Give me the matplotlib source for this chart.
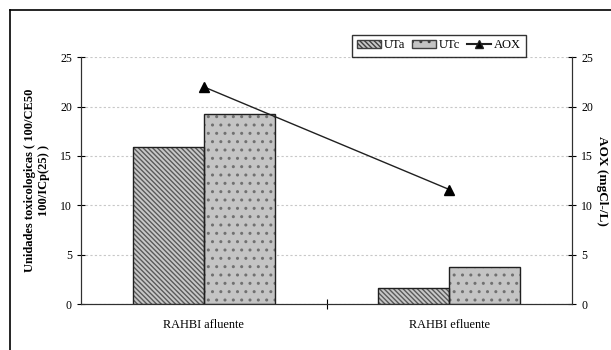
import matplotlib
matplotlib.use("Agg")
import matplotlib.pyplot as plt
from matplotlib.lines import Line2D
from matplotlib.patches import Patch

# data
categorias = ["RAHBI afluente", "RAHBI efluente"]
uta = [15.9, 1.6]
utc = [19.25, 3.7]
aox = [22.0, 11.6]

plt.rcParams['font.family'] = ['Liberation Serif', 'DejaVu Serif']
plt.rcParams['hatch.linewidth'] = 1.0

fig = plt.figure(figsize=(6.11, 3.5), dpi=100)
ax = fig.add_axes([0.1326, 0.1314, 0.8036, 0.705])
ax2 = ax.twinx()

x = list(range(len(categorias)))
w = 0.289
xa = [i - w / 2 for i in x]
xc = [i + w / 2 for i in x]
# fill + hatch first, then outline on top
ax.bar(xa, uta, width=w, color='#c8c8c8', edgecolor='#5a5a5a', hatch='\\\\\\\\\\\\\\',
       linewidth=0, zorder=3)
ax.bar(xc, utc, width=w, color='#c4c4c4', edgecolor='#707070', hatch='..',
       linewidth=0, zorder=3)
ax.bar(xa, uta, width=w, fill=False, edgecolor='#202020', linewidth=1.0, zorder=3)
ax.bar(xc, utc, width=w, fill=False, edgecolor='#202020', linewidth=1.0, zorder=3)

ax2.plot(x, aox, color='#202020', linewidth=1.0, marker='^', markersize=7,
         markerfacecolor='black', markeredgecolor='black', zorder=4)

for a in (ax, ax2):
    a.set_ylim(0, 25)
    a.set_yticks([0, 5, 10, 15, 20, 25])
    a.spines['top'].set_visible(False)
    a.tick_params(axis='y', direction='inout', length=6, labelsize=8.5, width=0.8)
ax.set_xlim(-0.5, 1.5)
ax.yaxis.grid(True, linestyle=(0, (2, 2)), color='#c8c8c8', linewidth=0.8, zorder=0)
ax.set_axisbelow(True)

ax.set_xticks([0.5])
ax.set_xticklabels([''])
ax.tick_params(axis='x', direction='inout', length=7, width=0.8)
for i, c in enumerate(categorias):
    ax.text(i, -2.1, c, ha='center', va='center', fontsize=8.8)

for s in ('left', 'bottom', 'right'):
    ax.spines[s].set_color('#303030')
    ax2.spines[s].set_color('#303030')

ax.set_ylabel("Unidades toxicologicas ( 100/CE50\n100/ICp(25) )", fontsize=9,
              fontweight='bold', labelpad=7, linespacing=1.25)
ax2.set_ylabel("AOX (mgCl-/L)", fontsize=9.5, fontweight='bold', rotation=-90,
               labelpad=11)

handles = [Patch(facecolor='#c8c8c8', edgecolor='#404040', hatch='\\\\\\\\\\\\\\', label='UTa'),
           Patch(facecolor='#c4c4c4', edgecolor='#404040', hatch='..', label='UTc'),
           Line2D([], [], color='#202020', marker='^', markerfacecolor='black',
                  markersize=6, label='AOX')]
leg = fig.legend(handles=handles, loc='upper left', bbox_to_anchor=(352 / 611, 1 - 34.5 / 350),
                 ncol=3, fontsize=9, frameon=True, fancybox=False, handlelength=1.9,
                 handleheight=0.6, handletextpad=0.25, columnspacing=0.55, borderpad=0.4,
                 borderaxespad=0)
leg.get_frame().set_edgecolor('black')
leg.get_frame().set_linewidth(1.0)

# outer frame (left and top only, as in the reference)
fig.add_artist(Line2D([10 / 611, 10 / 611], [0, 1 - 9.7 / 350], color='black', linewidth=1.2,
                      transform=fig.transFigure))
fig.add_artist(Line2D([10 / 611, 1], [1 - 9.7 / 350, 1 - 9.7 / 350], color='black', linewidth=1.2,
                      transform=fig.transFigure))

fig.savefig("out.png", dpi=100)
